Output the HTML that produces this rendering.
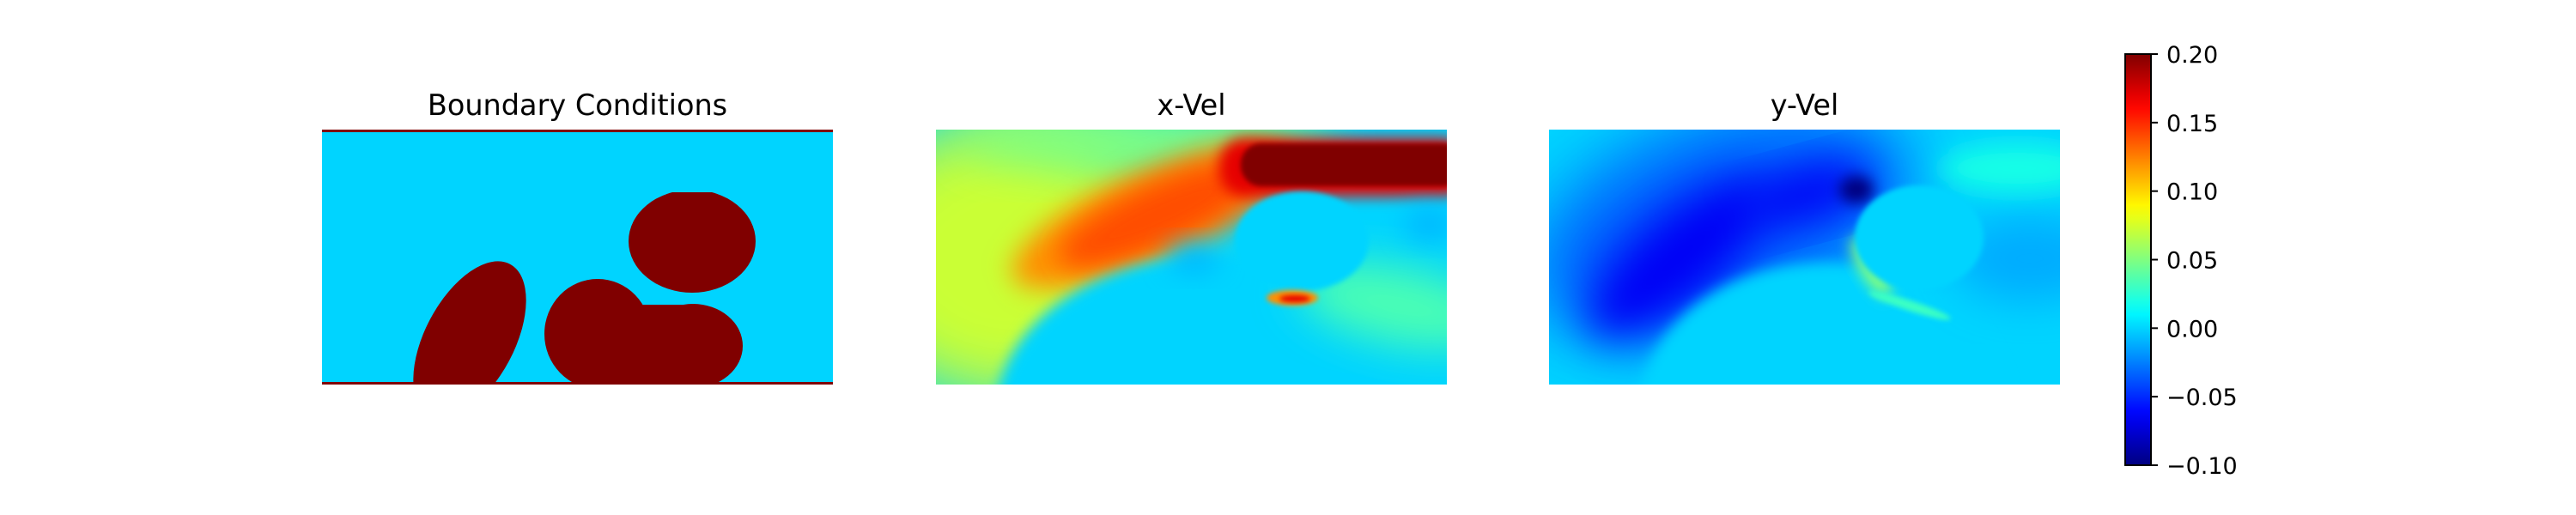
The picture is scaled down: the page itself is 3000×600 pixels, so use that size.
<!DOCTYPE html>
<html><head><meta charset="utf-8"><style>
html,body{margin:0;padding:0;background:#fff;overflow:hidden;width:3000px;height:600px;}
svg{display:block;}
text{font-family:"DejaVu Sans","Liberation Sans",sans-serif;fill:#000;}
</style></head>
<body>
<svg id="fig" width="3000" height="600" viewBox="0 0 3000 600" xmlns="http://www.w3.org/2000/svg">
<defs>
<filter id="b3" x="-50%" y="-50%" width="200%" height="200%"><feGaussianBlur stdDeviation="3"/></filter>
<filter id="b8" x="-50%" y="-50%" width="200%" height="200%"><feGaussianBlur stdDeviation="8"/></filter>
<filter id="b15" x="-50%" y="-50%" width="200%" height="200%"><feGaussianBlur stdDeviation="15"/></filter>
<filter id="b25" x="-50%" y="-50%" width="200%" height="200%"><feGaussianBlur stdDeviation="25"/></filter>
<filter id="b40" x="-50%" y="-50%" width="200%" height="200%"><feGaussianBlur stdDeviation="40"/></filter>
<clipPath id="clipP"><rect x="0" y="0" width="595" height="297"/></clipPath>
<linearGradient id="cbgrad" x1="0" y1="1" x2="0" y2="0"></linearGradient>
</defs>
</svg>
<script>
// colour scale
const vmin = -0.1, vmax = 0.2;
const cbTicks = [-0.10, -0.05, 0.00, 0.05, 0.10, 0.15, 0.20];
const cbTickLabels = ["\u22120.10", "\u22120.05", "0.00", "0.05", "0.10", "0.15", "0.20"];
const panelTitles = ["Boundary Conditions", "x-Vel", "y-Vel"];
// field feature values (velocity levels of each blob)
const xVelValues = [0.0, 0.072, 0.05, 0.14, 0.17, 0.2, 0.0, 0.0, 0.035, 0.12, 0.17, -0.008, -0.008];
const yVelValues = [0.0, -0.035, -0.065, -0.1, 0.0, 0.05, 0.02, -0.012, 0.0, 0.03];

const NS = "http://www.w3.org/2000/svg";
const svg = document.getElementById('fig');
function clamp(x){return Math.max(0,Math.min(1,x));}
function jet(v){
  const t = clamp((v - vmin)/(vmax - vmin));
  const r = clamp(1.5 - Math.abs(4*t-3)), g = clamp(1.5 - Math.abs(4*t-2)), b = clamp(1.5 - Math.abs(4*t-1));
  return `rgb(${Math.round(r*255)},${Math.round(g*255)},${Math.round(b*255)})`;
}
function el(tag, attrs, parent){
  const e = document.createElementNS(NS, tag);
  for (const k in attrs) e.setAttribute(k, attrs[k]);
  (parent||svg).appendChild(e);
  return e;
}
const PW = 595, PH = 297, PY = 151;
const panelX = [375, 1090, 1804];

// titles
panelTitles.forEach((t,i)=>{
  const tx = el('text', {x: panelX[i]+PW/2, y: 134, 'font-size': 33.5, 'text-anchor': 'middle'});
  
  
  tx.textContent = t;
});

function panel(i, name){
  const g = el('g', {transform: `translate(${panelX[i]},${PY})`});
  
  
  const inner = el('g', {'clip-path': 'url(#clipP)'}, g);
  return inner;
}

// Panel 1: boundary conditions
(function(){
  const g = panel(0, 'boundary-conditions-panel');
  el('rect', {x:0,y:0,width:PW,height:PH,fill:jet(0)}, g);
  const red = jet(0.2);
  const cp = el('clipPath', {id:'topcut'}, svg.querySelector('defs'));
  el('rect', {x:0,y:73,width:PW,height:PH}, cp);
  const c1 = el('ellipse', {cx:431, cy:130, rx:74, ry:60, fill:red, 'clip-path':'url(#topcut)'}, g);
  
  
  const c2 = el('ellipse', {cx:172, cy:245, rx:52, ry:100, fill:red, transform:'rotate(28 172 245)'}, g);
  
  
  const c3 = el('ellipse', {cx:321, cy:238, rx:62, ry:64, fill:red}, g);
  
  
  const c4 = el('ellipse', {cx:432, cy:252, rx:58, ry:49, fill:red}, g);
  
  
  const c5 = el('rect', {x:330, y:204, width:100, height:96, fill:red}, g);
  
  
  const w1 = el('rect', {x:0,y:0,width:PW,height:3,fill:red}, g);
  
  
  const w2 = el('rect', {x:0,y:PH-3,width:PW,height:3,fill:red}, g);
  
  
})();

// Panel 2: x-velocity
(function(){
  const g = panel(1, 'x-vel-panel');
  const v = xVelValues;
  el('rect', {x:0,y:0,width:PW,height:PH,fill:jet(v[0])}, g);
  el('ellipse', {cx:90, cy:150, rx:200, ry:170, fill:jet(v[1]), filter:'url(#b40)'}, g);
  el('ellipse', {cx:250, cy:15, rx:220, ry:35, fill:jet(v[2]), filter:'url(#b25)'}, g);
  el('ellipse', {cx:250, cy:100, rx:175, ry:52, fill:jet(v[9]), transform:'rotate(-24 250 100)', filter:'url(#b15)'}, g);
  el('ellipse', {cx:262, cy:98, rx:130, ry:36, fill:jet(v[3]), transform:'rotate(-24 262 98)', filter:'url(#b15)'}, g);
  el('rect', {x:330, y:10, width:290, height:68, rx:30, fill:jet(v[4]), filter:'url(#b8)'}, g);
  el('rect', {x:355, y:16, width:260, height:50, rx:24, fill:jet(v[5]), filter:'url(#b3)'}, g);
  // lower cyan arc region
  el('ellipse', {cx:330, cy:330, rx:260, ry:185, fill:jet(v[6]), filter:'url(#b8)'}, g);
  el('ellipse', {cx:300, cy:150, rx:30, ry:18, fill:jet(v[11]), filter:'url(#b15)'}, g);
  // lower right green
  el('ellipse', {cx:540, cy:205, rx:120, ry:45, fill:jet(v[8]), transform:'rotate(12 540 205)', filter:'url(#b25)'}, g);
  // circle
  el('ellipse', {cx:426, cy:130, rx:78, ry:58, fill:jet(v[7]), filter:'url(#b3)'}, g);
  el('ellipse', {cx:575, cy:110, rx:30, ry:20, fill:jet(v[12]), filter:'url(#b15)'}, g);
  // red spot
  el('ellipse', {cx:415, cy:196, rx:30, ry:9, fill:jet(v[9]), filter:'url(#b3)'}, g);
  el('ellipse', {cx:418, cy:197, rx:18, ry:4, fill:jet(v[10]), filter:'url(#b3)'}, g);
})();

// Panel 3: y-velocity
(function(){
  const g = panel(2, 'y-vel-panel');
  const v = yVelValues;
  el('rect', {x:0,y:0,width:PW,height:PH,fill:jet(v[0])}, g);
  el('ellipse', {cx:200, cy:110, rx:230, ry:120, fill:jet(v[1]), transform:'rotate(-20 200 110)', filter:'url(#b40)'}, g);
  el('ellipse', {cx:150, cy:150, rx:130, ry:50, fill:jet(v[2]), transform:'rotate(-40 150 150)', filter:'url(#b25)'}, g);
  el('ellipse', {cx:300, cy:75, rx:80, ry:30, fill:jet(v[2]), transform:'rotate(-15 300 75)', filter:'url(#b25)'}, g);
  el('ellipse', {cx:358, cy:70, rx:20, ry:16, fill:jet(v[3]), filter:'url(#b8)'}, g);
  // lower cyan arc
  el('ellipse', {cx:320, cy:330, rx:215, ry:175, fill:jet(v[4]), filter:'url(#b8)'}, g);
  el('ellipse', {cx:560, cy:150, rx:90, ry:50, fill:jet(v[7]), filter:'url(#b25)'}, g);
  el('ellipse', {cx:545, cy:45, rx:90, ry:28, fill:jet(v[6]), filter:'url(#b15)'}, g);
  el('ellipse', {cx:375, cy:160, rx:14, ry:40, fill:jet(v[5]), transform:'rotate(-30 375 160)', filter:'url(#b8)'}, g);
  el('ellipse', {cx:420, cy:205, rx:50, ry:6, fill:jet(v[9]), transform:'rotate(18 420 205)', filter:'url(#b3)'}, g);
  el('ellipse', {cx:431, cy:126, rx:75, ry:61, fill:jet(v[8]), filter:'url(#b3)'}, g);
})();

// Colorbar
(function(){
  const grad = document.getElementById('cbgrad');
  for (let k=0;k<=30;k++){
    const t = k/30;
    el('stop', {offset: t, 'stop-color': jet(vmin + t*(vmax-vmin))}, grad);
  }
  const cbX = 2475, cbW = 30, cbTop = 63, cbBot = 542;
  const yOf = val => cbBot - (val - vmin)/(vmax - vmin)*(cbBot - cbTop);
  const g = el('g', {});
  
  
  el('rect', {x:cbX, y:cbTop, width:cbW, height:cbBot-cbTop, fill:'url(#cbgrad)', stroke:'#000', 'stroke-width':2}, g);
  cbTicks.forEach((tv, i)=>{
    const y = yOf(tv);
    el('line', {x1:cbX+cbW, x2:cbX+cbW+8, y1:y, y2:y, stroke:'#000', 'stroke-width':2}, g);
    const t = el('text', {x:cbX+cbW+18, y:y+10, 'font-size':27}, g);
    
    
    t.textContent = cbTickLabels[i];
  });
})();
</script>
</body></html>
